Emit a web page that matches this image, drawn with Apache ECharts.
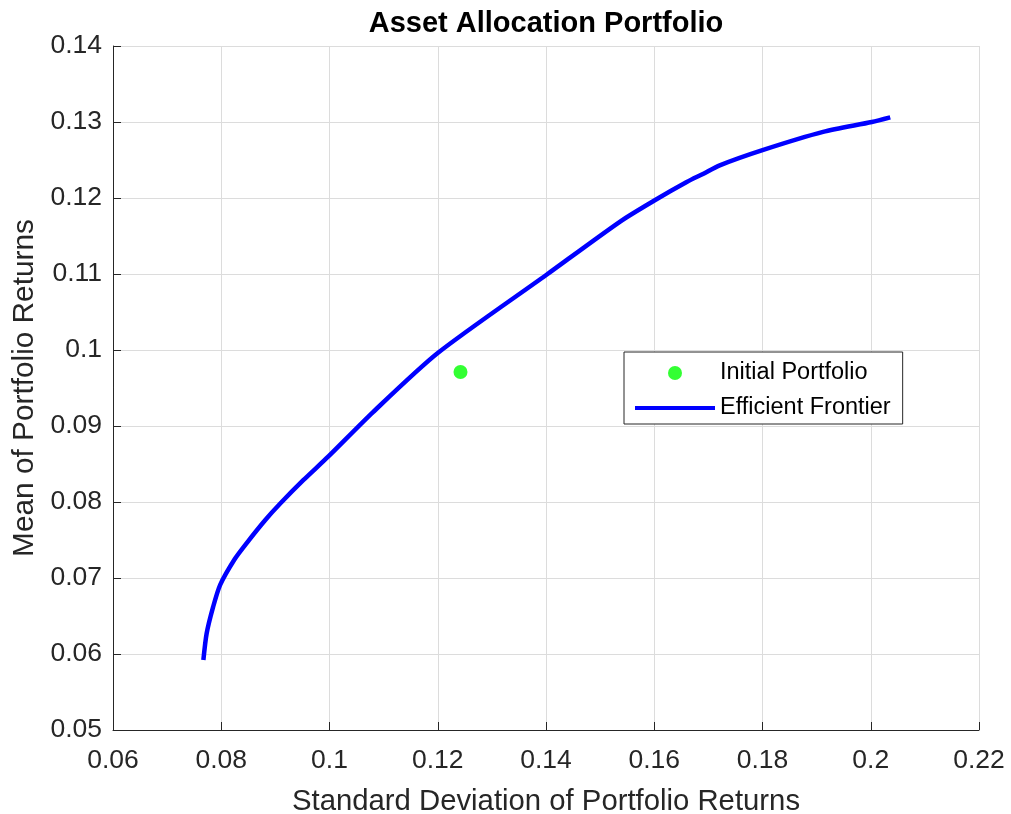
<!DOCTYPE html>
<html>
<head>
<meta charset="utf-8">
<script src="https://cdn.jsdelivr.net/npm/echarts@6/dist/echarts.min.js"></script>
<style>html,body{margin:0;padding:0;background:#fff}#c{width:1011px;height:814px}</style>
</head>
<body>
<div id="c"></div>
<script>
// Efficient frontier: standard deviation (x) and mean (y)
const frontierRisk = [0.0767, 0.0773, 0.0785, 0.0798, 0.0825, 0.0847, 0.0881, 0.0909, 0.0952, 0.0998, 0.1080, 0.1200, 0.1401, 0.1537, 0.1601, 0.1660, 0.1691, 0.1721, 0.1800, 0.1912, 0.2002, 0.2036];
const frontierReturn = [0.0592, 0.0627, 0.0662, 0.0691, 0.0725, 0.0746, 0.0776, 0.0798, 0.0829, 0.0860, 0.0918, 0.0996, 0.1099, 0.1169, 0.1197, 0.1221, 0.1232, 0.1243, 0.1263, 0.1287, 0.1300, 0.1306];
const initialRisk = [0.1242];
const initialReturn = [0.0971];
const seriesNames = ['Initial Portfolio', 'Efficient Frontier'];

const font = 'Arial, "Liberation Sans", Helvetica, sans-serif';
const txt = '#262626';
const chart = echarts.init(document.getElementById('c'), null, {renderer: 'canvas'});
chart.setOption({
  animation: false,
  backgroundColor: '#fff',
  title: {
    text: 'Asset Allocation Portfolio',
    left: 541, top: 4, textAlign: 'center',
    textStyle: {fontFamily: font, fontSize: 29, fontWeight: 'bold', color: '#000'}
  },
  grid: {left: 113, right: 32, top: 46, bottom: 84, outerBoundsMode: 'none', containLabel: false},
  legend: {
    orient: 'vertical',
    left: 624, top: 352,
    padding: [9, 12, 4, 9],
    itemGap: 11,
    itemWidth: 80, itemHeight: 14,
    backgroundColor: '#fff',
    borderColor: '#262626', borderWidth: 1,
    borderRadius: 0,
    textStyle: {fontFamily: font, fontSize: 23.5, lineHeight: 24, color: '#000', padding: [0, 0, 0, 0]},
    data: [
      {name: seriesNames[0], icon: 'circle'},
      {name: seriesNames[1], itemStyle: {color: 'rgba(0,0,0,0)', borderColor: 'rgba(0,0,0,0)', borderWidth: 0}, lineStyle: {width: 4, color: '#0000ff'}}
    ]
  },
  xAxis: {
    type: 'value', min: 0.06, max: 0.22, interval: 0.02,
    name: 'Standard Deviation of Portfolio Returns',
    nameLocation: 'middle', nameGap: 57,
    nameTextStyle: {fontFamily: font, fontSize: 29.3, color: txt},
    axisLine: {show: true, onZero: false, lineStyle: {color: '#262626', width: 1}},
    axisTick: {show: true, inside: true, length: 8, lineStyle: {color: '#262626'}},
    axisLabel: {fontFamily: font, fontSize: 26.5, color: txt, margin: 17, formatter: v => String(+v.toFixed(2))},
    splitLine: {show: true, lineStyle: {color: '#dcdcdc', width: 1}}
  },
  yAxis: {
    type: 'value', min: 0.05, max: 0.14, interval: 0.01,
    name: 'Mean of Portfolio Returns',
    nameLocation: 'middle', nameGap: 64,
    nameTextStyle: {fontFamily: font, fontSize: 29.8, color: txt},
    axisLine: {show: true, onZero: false, lineStyle: {color: '#262626', width: 1}},
    axisTick: {show: true, inside: true, length: 8, lineStyle: {color: '#262626'}},
    axisLabel: {fontFamily: font, fontSize: 26.5, color: txt, margin: 11, formatter: v => String(+v.toFixed(2))},
    splitLine: {show: true, lineStyle: {color: '#dcdcdc', width: 1}}
  },
  series: [
    {
      name: seriesNames[0], type: 'scatter',
      symbol: 'circle', symbolSize: 14,
      itemStyle: {color: '#00ff00'},
      data: initialRisk.map((x, i) => [x, initialReturn[i]]),
      z: 3
    },
    {
      name: seriesNames[1], type: 'line',
      symbol: 'none', smooth: 0.25,
      lineStyle: {color: '#0000ff', width: 4.5},
      itemStyle: {color: '#0000ff'},
      data: frontierRisk.map((x, i) => [x, frontierReturn[i]]),
      z: 2
    }
  ]
});
</script>
</body>
</html>
